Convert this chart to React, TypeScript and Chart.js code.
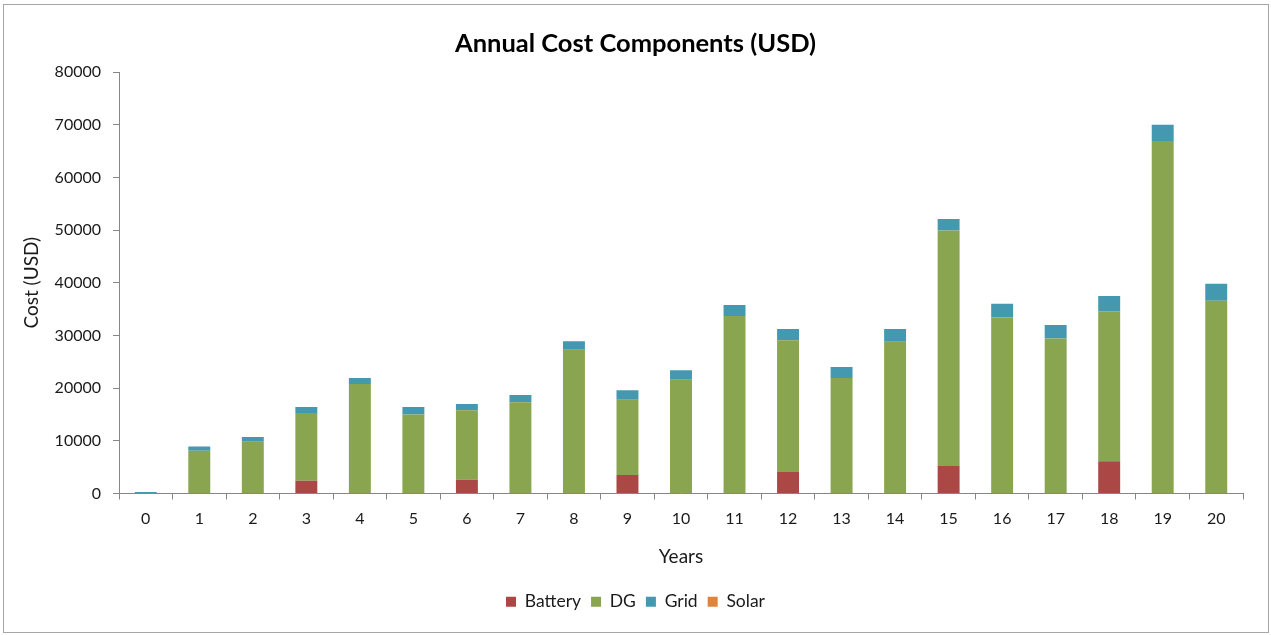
import React, { useEffect, useRef } from "react";
import { Chart, registerables } from "chart.js";

Chart.register(...registerables);

const years = ["0","1","2","3","4","5","6","7","8","9","10","11","12","13","14","15","16","17","18","19","20"];
const battery = [0,0,0,2400,0,0,2600,0,0,3500,0,0,4100,0,0,5200,0,0,6100,0,0];
const dg = [0,8100,9800,12900,20800,15000,13200,17300,27300,14300,21600,33700,25000,21900,28800,44700,33400,29400,28500,66900,36600];
const grid = [300,800,900,1100,1100,1400,1200,1400,1600,1800,1800,2100,2100,2100,2400,2200,2600,2600,2900,3100,3200];
const solar = [0,0,0,0,0,0,0,0,0,0,0,0,0,0,0,0,0,0,0,0,0];

const seriesNames = ["Battery", "DG", "Grid", "Solar"];
const seriesColors = ["#AB4744", "#8AA54F", "#4499B0", "#E0843C"];

export default function App() {
  const ref = useRef<HTMLCanvasElement | null>(null);

  useEffect(() => {
    document.body.style.margin = "0";
    const canvas = ref.current;
    if (!canvas) return;
    const axisColor = "#868686";
    const font = "Lato";
    const chart = new Chart(canvas, {
      type: "bar",
      data: {
        labels: years,
        datasets: [battery, dg, grid, solar].map((d, i) => ({
          label: seriesNames[i],
          data: d,
          backgroundColor: seriesColors[i],
          borderWidth: 0,
          barPercentage: 0.82,
          categoryPercentage: 0.5,
        })),
      },
      options: {
        responsive: false,
        animation: false,
        layout: { padding: { left: 28, right: 28, top: 0, bottom: 14.5 } },
        plugins: {
          title: {
            display: true,
            text: "Annual Cost Components (USD)",
            color: "#000",
            font: { family: font, size: 25.5, weight: "bold" },
            padding: { top: 28, bottom: 13.4 },
          },
          legend: {
            position: "bottom",
            labels: {
              color: "#1a1a1a",
              font: { family: font, size: 17.5 },
              boxWidth: 10,
              boxHeight: 10,
              padding: 10,
            },
          },
          tooltip: { enabled: false },
        },
        scales: {
          x: {
            stacked: true,
            grid: {
              display: true,
              offset: true,
              drawOnChartArea: false,
              drawTicks: true,
              tickLength: 6,
              color: axisColor,
            },
            border: { display: true, color: axisColor, width: 1 },
            ticks: {
              color: "#1a1a1a",
              font: { family: font, size: 16 },
              padding: 10,
              maxRotation: 0,
            },
            title: {
              display: true,
              text: "Years",
              color: "#1a1a1a",
              font: { family: font, size: 19 },
              padding: { top: 4, bottom: 15 },
            },
            afterFit: (scale: any) => {
              scale.height = 89.5;
            },
          },
          y: {
            stacked: true,
            min: 0,
            max: 80000,
            grid: {
              display: true,
              drawOnChartArea: false,
              drawTicks: true,
              tickLength: 6,
              color: axisColor,
            },
            border: { display: true, color: axisColor, width: 1 },
            ticks: {
              stepSize: 10000,
              color: "#1a1a1a",
              font: { family: font, size: 16 },
              padding: 12,
              callback: (v: any) => String(v),
            },
            title: {
              display: true,
              text: "Cost (USD)",
              color: "#1a1a1a",
              font: { family: font, size: 19 },
              padding: { top: -7.4, bottom: 4 },
            },
            afterFit: (scale: any) => {
              scale.width = 91;
            },
          },
        },
      },
    });
    return () => chart.destroy();
  }, []);

  return (
    <div style={{ position: "relative", width: 1271, height: 635, background: "#fff" }}>
      <canvas ref={ref} width={1271} height={635} style={{ position: "absolute", left: 0, top: 0 }} />
      <div
        style={{
          position: "absolute",
          left: 3,
          top: 4,
          width: 1264,
          height: 627,
          border: "1px solid #a6a6a6",
          pointerEvents: "none",
        }}
      />
    </div>
  );
}
